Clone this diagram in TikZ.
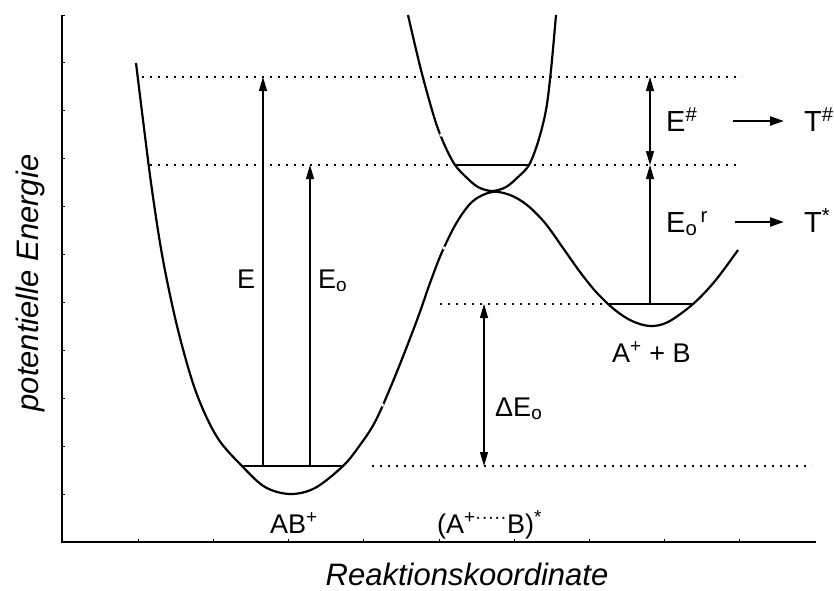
\documentclass[tikz,border=0pt]{standalone}
\usepackage{fontspec}
\setmainfont{Liberation Sans}
\usetikzlibrary{arrows.meta}

\begin{document}
\begin{tikzpicture}[x=1pt,y=-1pt,
  pot/.style={line width=2.2pt,line join=round},
  lvl/.style={line width=1.1pt},
  dots/.style={line width=1.3pt,dash pattern=on 2.2pt off 5.8pt},
  gap/.style={fill=white},
  a/.style={line width=1.1pt,-{Triangle[length=14pt,width=8pt]}},
  aa/.style={line width=1.1pt,{Triangle[length=14pt,width=8pt]}-{Triangle[length=14pt,width=8pt]}},
  ta/.style={line width=2.4pt,-{Triangle[length=14pt,width=9pt]}},
  lbl/.style={font=\fontsize{27}{30}\selectfont,inner sep=0pt,anchor=base west},
  rlbl/.style={lbl,font=\fontsize{29}{32}\selectfont},
  ax/.style={font=\fontsize{31}{34}\selectfont\itshape,inner sep=0pt}
]
  \useasboundingbox (0,0) rectangle (834,590);

  % axes
  \coordinate (org) at (62,542);
  \coordinate (ytop) at (62,15);
  \coordinate (xend) at (816,542);
  \draw[line width=2.2pt] (ytop) -- (org) -- (xend);
  \foreach \k in {0,...,10}
    \draw[line width=1pt] (62,{15+47.9*\k}) -- ++(3,0);
  \foreach \k in {1,...,9}
    \draw[line width=1pt] ({63+75.2*\k},542) -- ++(0,-3);
  \node[ax,rotate=90] (ylab) at (30,283) {potentielle Energie};
  \node[ax,anchor=base] (xlab) at (467,585) {Reaktionskoordinate};

  % dotted levels
  \draw[dots] (142,77) -- (742,77);
  \draw[dots] (150,165) -- (740,165);
  \draw[dots] (440,304) -- (607,304);
  \draw[dots] (372,466) -- (812,466);

  % lower surface
  \draw[pot] plot[smooth,tension=0.55] coordinates {
    (136,63) (143,120) (152,190) (163,260) (178,330) (196,392) (217,437)
    (242,466) (265,487) (290,494) (315,488) (343,466) (360,445) (376,420)
    (396,374) (417,320) (430,283) (442,252) (457,222) (473,201) (492,192)
    (510,195) (527,205) (545,223) (563,248) (580,272) (597,293) (615,310)
    (632,321) (650,326) (668,322) (693,304) (715,281) (738,250)};
  % upper surface
  \draw[pot] plot[smooth,tension=0.55] coordinates {
    (408,15) (421,70) (435,120) (445,146) (455,165) (466,177) (478,187)
    (492,191) (506,187) (518,177) (529,165) (538,142) (546,110) (551,70)
    (556,15)};
  % small breaks in the drawn curves
  \fill[gap] (382.5,405) circle (1.8);
  \fill[gap] (444,248) circle (1.8);
  \fill[gap] (441,135) circle (1.8);

  % vibrational levels
  \coordinate (ab0) at (242,466);
  \coordinate (ab1) at (343,466);
  \coordinate (ts0) at (455,165);
  \coordinate (ts1) at (529,165);
  \coordinate (pr0) at (607,304);
  \coordinate (pr1) at (693,304);
  \draw[lvl] (ab0) -- (ab1);
  \draw[lvl] (ts0) -- (ts1);
  \draw[lvl] (pr0) -- (pr1);

  % energy arrows
  \coordinate (eBot) at (263,466);
  \coordinate (eTop) at (263,77);
  \coordinate (eoBot) at (310,466);
  \coordinate (eoTop) at (310,165);
  \coordinate (dTop) at (484,304);
  \coordinate (dBot) at (484,466);
  \coordinate (hTop) at (650,77);
  \coordinate (hMid) at (650,165);
  \coordinate (rBot) at (650,304);
  \draw[a] (eBot) -- (eTop);
  \draw[a] (eoBot) -- (eoTop);
  \draw[aa] (dTop) -- (dBot);
  \draw[aa] (hTop) -- (hMid);
  \draw[a] (rBot) -- (hMid);

  % labels
  \node[lbl] (lE) at (237,288) {E};
  \node[lbl] (lEo) at (318,288) {E\textsubscript{o}};
  \node[lbl] (lDE) at (495,416) {ΔE\textsubscript{o}};
  \node[rlbl] (lEh) at (666,131) {E\textsuperscript{\#}};
  \node[rlbl] (lEr) at (666,232) {E\textsubscript{o}\textsuperscript{\,r}};
  \node[rlbl] (lTh) at (804,131) {T\textsuperscript{\#}};
  \node[rlbl] (lTs) at (804,232) {T\textsuperscript{*}};
  \node[lbl] (lAB) at (270,533) {AB\textsuperscript{+}};
  \node[lbl] (lTS) at (437,533) {(A\textsuperscript{+·····}B)\textsuperscript{*}};
  \node[lbl] (lPr) at (612,362) {A\textsuperscript{+} + B};
  \coordinate (th0) at (733,121);
  \coordinate (th1) at (784,121);
  \coordinate (tr0) at (735,222);
  \coordinate (tr1) at (784,222);
  \draw[ta] (th0) -- (th1);
  \draw[ta] (tr0) -- (tr1);
\end{tikzpicture}
\end{document}
